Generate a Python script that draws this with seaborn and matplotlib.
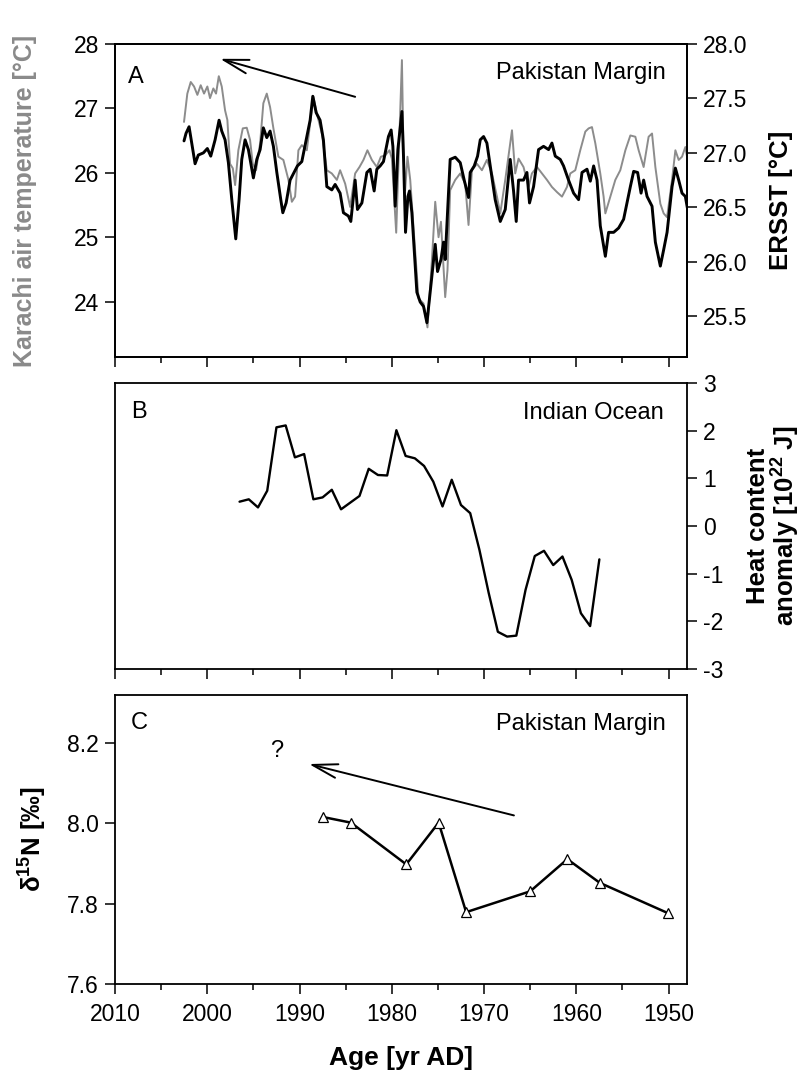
import matplotlib
matplotlib.use("Agg")
import matplotlib.pyplot as plt
from matplotlib.ticker import MultipleLocator, FormatStrFormatter
import pandas as pd
import seaborn as sns

# ---------------- Panel A: Pakistan Margin temperatures ----------------
ersst_year = [2002.52, 2002.30, 2001.97, 2001.68, 2001.32, 2000.97, 2000.42, 1999.99, 1999.62, 1999.15,
              1998.72, 1998.43, 1998.07, 1997.71, 1997.34, 1996.91, 1996.55, 1996.26, 1995.90, 1995.54,
              1995.00, 1994.63, 1994.27, 1993.92, 1993.55, 1993.19, 1992.83, 1992.46, 1992.03, 1991.81,
              1991.45, 1991.02, 1990.59, 1990.23, 1989.75, 1989.21, 1988.85, 1988.56, 1988.20, 1987.77,
              1987.41, 1987.04, 1986.50, 1986.14, 1985.60, 1985.24, 1984.70, 1984.44, 1983.97, 1983.72,
              1983.24, 1982.70, 1982.34, 1981.91, 1981.62, 1981.26, 1980.90, 1980.36, 1980.07, 1979.88,
              1979.63, 1979.34, 1978.90, 1978.73, 1978.51, 1978.25, 1978.08, 1977.82, 1977.28, 1976.92,
              1976.56, 1976.19, 1975.91, 1975.65, 1975.29, 1975.04, 1974.67, 1974.39, 1974.21, 1973.67,
              1973.12, 1972.58, 1972.15, 1971.68, 1971.50, 1971.06, 1970.70, 1970.41, 1970.05, 1969.69,
              1969.33, 1968.79, 1968.24, 1967.70, 1967.16, 1966.80, 1966.51, 1966.26, 1965.72, 1965.35,
              1965.07, 1964.63, 1964.09, 1963.55, 1963.00, 1962.64, 1962.28, 1961.74, 1961.38, 1960.84,
              1960.29, 1959.75, 1959.38, 1958.84, 1958.48, 1958.12, 1957.75, 1957.40, 1956.85, 1956.50,
              1955.95, 1955.41, 1954.87, 1954.14, 1953.78, 1953.35, 1952.98, 1952.70, 1952.33, 1951.79,
              1951.43, 1950.89, 1950.53, 1950.16, 1949.62, 1949.26, 1948.90, 1948.54, 1948.18, 1947.93]
ersst_temp = [27.11, 27.18, 27.24, 27.09, 26.90, 26.98, 27.00, 27.04, 26.97, 27.12,
              27.30, 27.20, 27.12, 26.91, 26.57, 26.21, 26.57, 26.94, 27.12, 27.03,
              26.77, 26.94, 27.03, 27.23, 27.14, 27.20, 27.06, 26.82, 26.57, 26.45,
              26.54, 26.75, 26.82, 26.88, 26.92, 27.15, 27.30, 27.52, 27.37, 27.30,
              27.12, 26.69, 26.66, 26.71, 26.63, 26.45, 26.42, 26.37, 26.75, 26.48,
              26.54, 26.82, 26.85, 26.65, 26.85, 26.88, 26.92, 27.15, 27.21, 27.06,
              26.51, 27.03, 27.38, 26.97, 26.27, 26.60, 26.65, 26.45, 25.72, 25.63,
              25.59, 25.44, 25.66, 25.87, 26.16, 25.91, 26.02, 26.18, 26.02, 26.94,
              26.96, 26.91, 26.75, 26.59, 26.82, 26.88, 26.97, 27.12, 27.15, 27.09,
              26.88, 26.57, 26.37, 26.48, 26.94, 26.65, 26.37, 26.75, 26.75, 26.82,
              26.54, 26.69, 27.03, 27.06, 27.03, 27.09, 26.97, 26.94, 26.88, 26.75,
              26.63, 26.57, 26.82, 26.85, 26.74, 26.88, 26.75, 26.33, 26.05, 26.27,
              26.27, 26.31, 26.39, 26.69, 26.83, 26.82, 26.63, 26.75, 26.60, 26.51,
              26.18, 25.96, 26.11, 26.27, 26.69, 26.86, 26.75, 26.63, 26.60, 26.48]

karachi_year = [2002.52, 2002.16, 2001.79, 2001.43, 2001.07, 2000.71, 2000.35, 1999.99, 1999.70, 1999.34,
                1999.05, 1998.75, 1998.43, 1998.07, 1997.82, 1997.53, 1997.23, 1996.98, 1996.63, 1996.15,
                1995.72, 1995.36, 1995.07, 1994.71, 1994.27, 1993.92, 1993.55, 1993.19, 1992.83, 1992.29,
                1991.75, 1991.20, 1990.83, 1990.48, 1990.12, 1989.75, 1989.21, 1988.85, 1988.49, 1988.12,
                1987.58, 1987.04, 1986.50, 1985.95, 1985.60, 1985.05, 1984.51, 1983.97, 1983.50, 1983.07,
                1982.64, 1982.16, 1981.62, 1981.18, 1980.72, 1980.25, 1979.99, 1979.52, 1978.90, 1978.73,
                1978.55, 1978.30, 1978.00, 1977.65, 1977.10, 1976.56, 1976.13, 1975.65, 1975.29, 1974.93,
                1974.67, 1974.21, 1973.96, 1973.67, 1973.12, 1972.58, 1972.04, 1971.68, 1971.31, 1970.77,
                1970.23, 1969.69, 1969.14, 1968.60, 1968.24, 1967.70, 1966.97, 1966.62, 1966.26, 1965.72,
                1965.17, 1964.81, 1964.26, 1963.72, 1963.18, 1962.64, 1962.09, 1961.55, 1961.01, 1960.65,
                1960.11, 1959.57, 1959.02, 1958.66, 1958.30, 1957.94, 1957.40, 1957.04, 1956.85, 1956.31,
                1955.77, 1955.23, 1954.68, 1954.14, 1953.60, 1953.24, 1952.70, 1952.16, 1951.79, 1951.43,
                1950.89, 1950.53, 1950.16, 1949.62, 1949.26, 1948.90, 1948.54, 1948.18, 1947.93]
karachi_temp = [26.79, 27.23, 27.41, 27.34, 27.21, 27.36, 27.23, 27.34, 27.16, 27.31,
                27.23, 27.50, 27.34, 26.97, 26.82, 26.14, 26.07, 25.81, 26.35, 26.69,
                26.70, 26.51, 26.14, 26.04, 26.46, 27.08, 27.23, 27.02, 26.69, 26.25,
                26.20, 25.89, 25.55, 25.63, 26.35, 26.43, 26.35, 26.77, 27.18, 26.92,
                26.61, 26.04, 25.99, 25.89, 26.04, 25.83, 25.47, 25.99, 26.09, 26.20,
                26.35, 26.20, 26.09, 26.25, 26.27, 26.35, 26.22, 25.07, 27.75, 26.30,
                25.73, 26.25, 25.89, 25.16, 24.05, 23.97, 23.60, 24.64, 25.55, 25.00,
                25.24, 24.07, 24.49, 25.73, 25.89, 25.99, 25.83, 25.19, 26.04, 26.14,
                26.04, 26.20, 25.99, 25.63, 25.37, 25.89, 26.66, 25.99, 26.22, 26.09,
                25.78, 25.99, 26.09, 25.99, 25.89, 25.78, 25.70, 25.63, 25.78, 25.99,
                26.04, 26.35, 26.64, 26.69, 26.71, 26.46, 25.99, 25.63, 25.37, 25.63,
                25.89, 26.04, 26.35, 26.58, 26.56, 26.35, 26.09, 26.56, 26.61, 26.09,
                25.52, 25.37, 25.31, 25.89, 26.35, 26.20, 26.25, 26.40, 26.20]

# ---------------- Panel B: Indian Ocean heat content ----------------
ohc_year = [1996.5, 1995.5, 1994.5, 1993.5, 1992.5, 1991.5, 1990.5, 1989.5, 1988.5, 1987.5,
            1986.5, 1985.5, 1984.5, 1983.5, 1982.5, 1981.5, 1980.5, 1979.5, 1978.5, 1977.5,
            1976.5, 1975.5, 1974.5, 1973.5, 1972.5, 1971.5, 1970.5, 1969.5, 1968.5, 1967.5,
            1966.5, 1965.5, 1964.5, 1963.5, 1962.5, 1961.5, 1960.5, 1959.5, 1958.5, 1957.5]
ohc_anom = [0.51, 0.56, 0.39, 0.74, 2.07, 2.11, 1.44, 1.51, 0.56, 0.60,
            0.76, 0.35, 0.49, 0.63, 1.20, 1.07, 1.06, 2.01, 1.47, 1.42,
            1.26, 0.93, 0.41, 0.97, 0.44, 0.27, -0.50, -1.40, -2.22, -2.32,
            -2.30, -1.34, -0.63, -0.52, -0.82, -0.64, -1.13, -1.83, -2.10, -0.70]

# ---------------- Panel C: sediment d15N ----------------
d15n_year = [1987.45, 1984.43, 1978.43, 1974.92, 1971.94, 1964.99, 1960.97, 1957.45, 1950.01]
d15n_val = [8.016, 8.002, 7.898, 8.002, 7.779, 7.831, 7.911, 7.852, 7.776]

# trend arrows (tail -> head)
arrow_a = ((1983.97, 27.18), (1998.61, 27.77))
arrow_c = ((1966.76, 8.020), (1988.98, 8.148))
age_ticks = [2010, 2000, 1990, 1980, 1970, 1960, 1950]

ersst = pd.DataFrame({"year": ersst_year, "temp": ersst_temp})
karachi = pd.DataFrame({"year": karachi_year, "temp": karachi_temp})
ohc = pd.DataFrame({"year": ohc_year, "anom": ohc_anom})
d15n = pd.DataFrame({"year": d15n_year, "d15n": d15n_val})

sns.set_theme(style="ticks")
plt.rcParams["font.family"] = ["Liberation Sans", "DejaVu Sans"]
plt.rcParams.update({
    "font.size": 16.5,
    "text.color": "black",
    "axes.labelcolor": "black",
    "axes.unicode_minus": False,
    "mathtext.fontset": "custom",
    "mathtext.rm": "Liberation Sans",
    "mathtext.bf": "Liberation Sans:bold",
    "mathtext.it": "Liberation Sans:italic",
    "axes.linewidth": 1.3,
    "axes.edgecolor": "black",
    "xtick.color": "black",
    "ytick.color": "black",
    "xtick.labelsize": 16.5,
    "ytick.labelsize": 16.5,
    "xtick.major.size": 7.5,
    "ytick.major.size": 7.5,
    "xtick.minor.size": 4.5,
    "xtick.major.width": 1.1,
    "ytick.major.width": 1.1,
    "xtick.minor.width": 1.1,
    "xtick.major.pad": 6,
    "ytick.major.pad": 4,
})

W_PX, H_PX = 807, 1074
fig = plt.figure(figsize=(W_PX / 100, H_PX / 100), dpi=100)
LEFT, RIGHT = 115, 687


def panel_rect(top, bottom):
    return [LEFT / W_PX, 1 - bottom / H_PX, (RIGHT - LEFT) / W_PX, (bottom - top) / H_PX]


axA = fig.add_axes(panel_rect(44, 357))
axB = fig.add_axes(panel_rect(383, 669), sharex=axA)
axC = fig.add_axes(panel_rect(695, 984), sharex=axA)
axA2 = axA.twinx()

GREY = "#8c8c8c"
sns.lineplot(data=karachi, x="year", y="temp", ax=axA, color=GREY, lw=1.4,
             sort=False, estimator=None)
sns.lineplot(data=ersst, x="year", y="temp", ax=axA2, color="black", lw=2.1,
             sort=False, estimator=None)
sns.lineplot(data=ohc, x="year", y="anom", ax=axB, color="black", lw=1.7,
             sort=False, estimator=None)
sns.lineplot(data=d15n, x="year", y="d15n", ax=axC, color="black", lw=1.8,
             sort=False, estimator=None, marker="^", markersize=7,
             markerfacecolor="white", markeredgecolor="black", markeredgewidth=0.9)

# shared age axis
axA.set_xlim(2010, 1948)
axA.xaxis.set_major_locator(MultipleLocator(10))
axA.xaxis.set_minor_locator(MultipleLocator(5))
for ax in (axA, axB, axC):
    ax.tick_params(axis="x", which="both", direction="out", bottom=True, top=False)
    ax.set_xlabel("")
    ax.set_ylabel("")
axA.tick_params(axis="x", labelbottom=False)
axB.tick_params(axis="x", labelbottom=False)
axC.set_xticks(age_ticks)
axC.set_xticklabels([str(t) for t in age_ticks])

LABEL_FS = 18.5

# panel A axes
axA.set_ylim(23.14, 28.0)
axA.set_yticks([24, 25, 26, 27, 28])
axA.tick_params(axis="y", left=True, right=False, labelleft=True, labelright=False)
axA2.set_ylim(25.125, 28.0)
axA2.set_yticks([25.5, 26.0, 26.5, 27.0, 27.5, 28.0])
axA2.yaxis.set_major_formatter(FormatStrFormatter("%.1f"))
axA2.tick_params(axis="y", left=False, right=True, labelleft=False, labelright=True)
axA2.set_ylabel("")

axA.set_ylabel("Karachi air temperature [°C]", color="#8a8a8a", fontweight="bold",
               fontsize=18, va="center")
axA.yaxis.set_label_coords(-0.157, 0.5)
axA2.set_ylabel("ERSST [°C]", fontweight="bold", fontsize=LABEL_FS, va="center", rotation=90)
axA2.yaxis.set_label_coords(1.165, 0.5)

# panel B axes
axB.set_ylim(-3, 3)
axB.set_yticks([-3, -2, -1, 0, 1, 2, 3])
axB.yaxis.tick_right()
axB.tick_params(axis="y", left=False, right=True, labelleft=False, labelright=True)
axB.yaxis.set_label_position("right")
axB.set_ylabel("Heat content\nanomaly [$\\mathbf{10^{22}}$ J]", fontweight="bold",
               fontsize=LABEL_FS, va="center", rotation=90, linespacing=1.0)
axB.yaxis.set_label_coords(1.152, 0.5)

# panel C axes
axC.set_ylim(7.6, 8.32)
axC.set_yticks([7.6, 7.8, 8.0, 8.2])
axC.yaxis.set_major_formatter(FormatStrFormatter("%.1f"))
axC.tick_params(axis="y", left=True, right=False)
axC.set_ylabel("δ$^{\\mathbf{15}}$N [‰]", fontweight="bold", fontsize=LABEL_FS, va="center")
axC.yaxis.set_label_coords(-0.143, 0.5)
axC.set_xlabel("Age [yr AD]", fontweight="bold", fontsize=19)
axC.xaxis.set_label_coords(0.5, -0.215)

for ax in (axA, axA2, axB, axC):
    for s in ax.spines.values():
        s.set_visible(True)
        s.set_linewidth(1.3)
        s.set_color("black")

# panel letters and regions
axA.text(0.023, 0.895, "A", transform=axA.transAxes, fontsize=17, va="center", ha="left")
axA.text(0.962, 0.906, "Pakistan Margin", transform=axA.transAxes, fontsize=17,
         va="center", ha="right")
axB.text(0.029, 0.90, "B", transform=axB.transAxes, fontsize=17, va="center", ha="left")
axB.text(0.959, 0.894, "Indian Ocean", transform=axB.transAxes, fontsize=17,
         va="center", ha="right")
axC.text(0.028, 0.904, "C", transform=axC.transAxes, fontsize=17, va="center", ha="left")
axC.text(0.962, 0.90, "Pakistan Margin", transform=axC.transAxes, fontsize=17,
         va="center", ha="right")

arrow_kw = dict(arrowstyle="->,head_length=0.9,head_width=0.25", lw=1.4, color="black",
                shrinkA=0, shrinkB=0, mutation_scale=20)
axA.annotate("", xy=arrow_a[1], xytext=arrow_a[0], arrowprops=arrow_kw)
axC.annotate("", xy=arrow_c[1], xytext=arrow_c[0], arrowprops=arrow_kw)
axC.text(1992.5, 8.18, "?", fontsize=17, ha="center", va="center")

fig.savefig("out.png", dpi=100)
